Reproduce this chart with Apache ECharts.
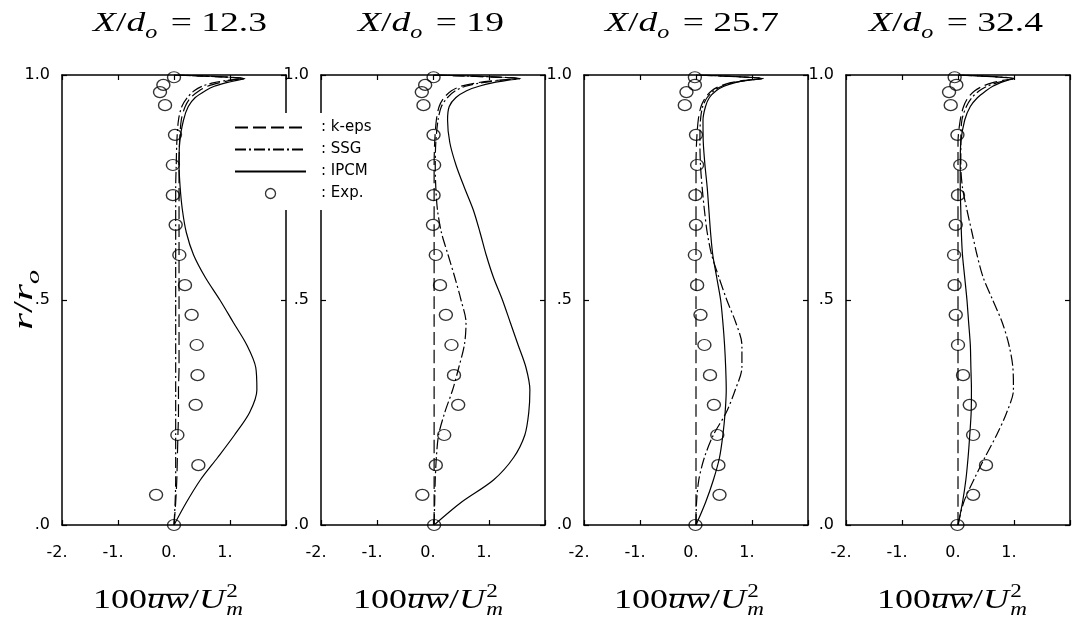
<!DOCTYPE html>
<html>
<head>
<meta charset="utf-8">
<script src="https://cdn.jsdelivr.net/npm/echarts@6/dist/echarts.min.js"></script>
<style>
  html, body { margin: 0; padding: 0; background: #fff; }
  #chart { width: 1072px; height: 622px; }
</style>
</head>
<body>
<div id="chart"></div>
<script>
// Axial stations X/d_o of the four profiles
const stations = ['12.3', '19', '25.7', '32.4'];

// Tick values and their printed labels
const xTicks = [-2, -1, 0, 1, 2];
const xTickLabels = ['-2.', '-1.', '0.', '1.', ''];
const yTicks = [0, 0.5, 1];
const yTickLabels = ['.0', '.5', '1.0'];

// Radial positions r/r_o where the model curves are sampled
const rModel = [0, 0.05, 0.1, 0.15, 0.2, 0.25, 0.3, 0.35, 0.4, 0.45, 0.5, 0.55, 0.6, 0.65,
  0.7, 0.75, 0.8, 0.85, 0.9, 0.93, 0.95, 0.965, 0.975, 0.983, 0.988, 0.992, 1.0];

// 100 uw / Um^2 predicted by each model, X/d_o = 12.3
const keps123 = [0, 0.03, 0.05, 0.06, 0.07, 0.08, 0.08, 0.09, 0.09, 0.09, 0.09, 0.09, 0.09, 0.09,
  0.09, 0.09, 0.09, 0.1, 0.13, 0.2, 0.3, 0.45, 0.6, 0.82, 1.02, 1.25, 0];
const ssg123 = [0, 0.02, 0.03, 0.03, 0.03, 0.03, 0.03, 0.03, 0.03, 0.03, 0.03, 0.03, 0.03, 0.03,
  0.03, 0.03, 0.04, 0.05, 0.08, 0.14, 0.24, 0.36, 0.5, 0.72, 0.95, 1.25, 0];
const ipcm123 = [0, 0.22, 0.47, 0.78, 1.08, 1.35, 1.48, 1.46, 1.3, 1.06, 0.82, 0.56, 0.35, 0.22,
  0.15, 0.11, 0.09, 0.1, 0.17, 0.255, 0.38, 0.56, 0.72, 0.94, 1.12, 1.27, 0];

// X/d_o = 19
const keps19 = [0.02, 0.02, 0.02, 0.02, 0.02, 0.02, 0.02, 0.02, 0.02, 0.02, 0.02, 0.02, 0.02, 0.02,
  0.02, 0.02, 0.02, 0.03, 0.06, 0.11, 0.2, 0.33, 0.5, 0.8, 1.12, 1.5, 0];
const ssg19 = [0.02, 0.03, 0.04, 0.06, 0.1, 0.21, 0.35, 0.46, 0.56, 0.59, 0.5, 0.39, 0.27, 0.15,
  0.08, 0.05, 0.04, 0.05, 0.09, 0.15, 0.26, 0.4, 0.58, 0.88, 1.2, 1.55, 0];
const ipcm19 = [0.02, 0.5, 1.08, 1.44, 1.64, 1.71, 1.73, 1.66, 1.52, 1.38, 1.24, 1.08, 0.95, 0.84,
  0.72, 0.56, 0.41, 0.3, 0.26, 0.29, 0.41, 0.6, 0.82, 1.08, 1.32, 1.57, 0];

// X/d_o = 25.7
const keps257 = [0, 0, 0, 0, 0, 0, 0, 0, 0, 0, 0, 0, 0, 0,
  0, 0, 0, 0.01, 0.04, 0.09, 0.17, 0.28, 0.42, 0.62, 0.86, 1.18, 0];
const ssg257 = [0, 0.01, 0.05, 0.15, 0.31, 0.54, 0.7, 0.82, 0.82, 0.71, 0.55, 0.41, 0.28, 0.2,
  0.15, 0.11, 0.08, 0.07, 0.08, 0.12, 0.2, 0.32, 0.46, 0.66, 0.9, 1.2, 0];
const ipcm257 = [0, 0.17, 0.31, 0.42, 0.48, 0.52, 0.54, 0.53, 0.51, 0.48, 0.44, 0.37, 0.3, 0.26,
  0.23, 0.2, 0.16, 0.13, 0.125, 0.17, 0.24, 0.36, 0.5, 0.7, 0.92, 1.2, 0];

// X/d_o = 32.4
const keps324 = [0, 0, 0, 0, 0, 0, 0, 0, 0, 0, 0, 0, 0, 0,
  0, 0, 0, 0, 0.04, 0.1, 0.18, 0.3, 0.44, 0.62, 0.8, 1.0, 0];
const ssg324 = [0, 0.1, 0.28, 0.48, 0.69, 0.87, 0.99, 0.98, 0.91, 0.79, 0.62, 0.45, 0.34, 0.25,
  0.16, 0.08, 0.05, 0.05, 0.07, 0.15, 0.25, 0.38, 0.52, 0.7, 0.85, 1.0, 0];
const ipcm324 = [0, 0.08, 0.14, 0.18, 0.21, 0.235, 0.24, 0.23, 0.22, 0.19, 0.16, 0.12, 0.08, 0.06,
  0.05, 0.04, 0.04, 0.05, 0.12, 0.22, 0.35, 0.5, 0.62, 0.76, 0.88, 1.0, 0];

// Measured points (r/r_o and 100 uw / Um^2)
const expR = [0, 0.067, 0.133, 0.2, 0.267, 0.333, 0.4, 0.467, 0.533, 0.6, 0.667, 0.733, 0.8,
  0.867, 0.933, 0.962, 0.978, 0.995];
const exp123 = [0, -0.32, 0.435, 0.06, 0.387, 0.42, 0.405, 0.315, 0.196, 0.095, 0.03, -0.02, -0.02,
  0.018, -0.16, -0.25, -0.19, 0.0];
const exp19 = [0.02, -0.19, 0.05, 0.2, 0.45, 0.375, 0.33, 0.23, 0.125, 0.05, 0.0, 0.01, 0.02,
  0.01, -0.17, -0.2, -0.14, 0.01];
const exp257 = [-0.01, 0.42, 0.4, 0.38, 0.32, 0.25, 0.15, 0.08, 0.02, -0.02, 0.0, -0.01, 0.02,
  0.0, -0.2, -0.17, -0.02, -0.02];
const exp324 = [-0.01, 0.27, 0.5, 0.27, 0.21, 0.09, 0.0, -0.04, -0.06, -0.07, -0.04, 0.0, 0.04,
  -0.01, -0.13, -0.16, -0.03, -0.06];

const panels = [
  { keps: keps123, ssg: ssg123, ipcm: ipcm123, exp: exp123 },
  { keps: keps19, ssg: ssg19, ipcm: ipcm19, exp: exp19 },
  { keps: keps257, ssg: ssg257, ipcm: ipcm257, exp: exp257 },
  { keps: keps324, ssg: ssg324, ipcm: ipcm324, exp: exp324 }
];

const models = [
  { name: 'k-eps', key: 'keps', dash: [13, 5] },
  { name: 'SSG', key: 'ssg', dash: [11, 3, 2, 3] },
  { name: 'IPCM', key: 'ipcm', dash: 'solid' }
];

// Layout
const gridLeft = [62, 321, 584, 846];
const gridTop = 75, gridW = 224, gridH = 450;
const titleCx = [180, 431, 692, 956];
const nameCx = [168, 428, 689, 952];

const sans = "'DejaVu Sans', 'Liberation Sans', sans-serif";
const serif = "'Liberation Serif', 'DejaVu Serif', serif";

// ---- small math-text typesetter built from graphic text pieces ----
const mctx = document.createElement('canvas').getContext('2d');
function fontOf(p) { return (p.italic ? 'italic ' : '') + p.size + 'px ' + serif; }
function measure(p) { mctx.font = fontOf(p); return mctx.measureText(p.text).width; }
function naturalWidth(parts) {
  let x = 0;
  parts.forEach(p => {
    if (p.stack) x += Math.max.apply(null, p.stack.map(measure));
    else x += measure(p) + (p.gap || 0);
  });
  return x;
}
function mathGroup(parts, cx, baseY, scale, rotation) {
  const kids = [];
  let x = 0;
  const put = (p, px) => kids.push({
    type: 'text', x: px, y: -(p.rise || 0) - 0.34 * p.size,
    style: {
      text: p.text, fontFamily: serif, fontSize: p.size,
      fontStyle: p.italic ? 'italic' : 'normal', fill: '#000',
      align: 'left', verticalAlign: 'middle'
    }
  });
  parts.forEach(p => {
    if (p.stack) {
      let w = 0;
      p.stack.forEach(q => { put(q, x); w = Math.max(w, measure(q)); });
      x += w;
    } else {
      const w = measure(p);
      put(p, x);
      if (p.over) {
        const yo = -0.56 * p.size;
        kids.push({ type: 'line', shape: { x1: x + 1, y1: yo, x2: x + w - 0.5, y2: yo },
          style: { stroke: '#000', lineWidth: 1.3 } });
      }
      x += w + (p.gap || 0);
    }
  });
  kids.forEach(k => {
    if (k.type === 'text') k.x -= x / 2;
    else { k.shape.x1 -= x / 2; k.shape.x2 -= x / 2; }
  });
  return { type: 'group', x: cx, y: baseY, rotation: rotation || 0, scaleX: scale, children: kids, silent: true };
}

const S = 28, s = 18;
function titleParts(st) {
  return [
    { text: 'X', italic: true, size: S },
    { text: '/', size: S },
    { text: 'd', italic: true, size: S },
    { text: 'o', italic: true, size: s, rise: -6, gap: 3 },
    { text: ' = ' + st, size: S }
  ];
}
const xNameParts = [
  { text: '100', size: S },
  { text: 'uw', italic: true, size: S, over: true },
  { text: '/', size: S },
  { text: 'U', italic: true, size: S, gap: 1 },
  { stack: [{ text: '2', size: s, rise: 12 }, { text: 'm', italic: true, size: s, rise: -6 }] }
];
const yNameParts = [
  { text: 'r', italic: true, size: S },
  { text: '/', size: S },
  { text: 'r', italic: true, size: S },
  { text: 'o', italic: true, size: s, rise: -6 }
];

const titleScale = 174 / naturalWidth(titleParts(stations[0]));
const xNameScale = 150 / naturalWidth(xNameParts);
const yNameScale = 60 / naturalWidth(yNameParts);

const graphics = [
  // blank backing behind the key, interrupting the frames it sits on
  { type: 'rect', z: 15, silent: true, shape: { x: 230, y: 113, width: 152, height: 97 },
    style: { fill: '#fff' } }
];
stations.forEach((st, i) => {
  graphics.push(mathGroup(titleParts(st), titleCx[i], 33, titleScale, 0));
  graphics.push(mathGroup(xNameParts, nameCx[i], 610, xNameScale, 0));
});
graphics.push(mathGroup(yNameParts, 34, 300, yNameScale, Math.PI / 2));

// ---- axes, grids and series ----
const lineAxis = { show: true, onZero: false, lineStyle: { color: '#000', width: 1.5 } };
const tick = { show: true, inside: true, length: 5, lineStyle: { color: '#000', width: 1.2 } };

const grid = [], xAxis = [], yAxis = [], series = [];
panels.forEach((p, i) => {
  grid.push({ left: gridLeft[i], top: gridTop, width: gridW, height: gridH,
    containLabel: false, outerBoundsMode: 'none', show: false });
  xAxis.push({
    gridIndex: i, type: 'value', position: 'bottom', min: -2, max: 2, interval: 1,
    axisLine: lineAxis, axisTick: tick, splitLine: { show: false }, z: 0,
    axisLabel: { show: true, margin: 20, color: '#000', fontFamily: sans, fontSize: 16,
      padding: [0, 10, 0, 0], formatter: v => xTickLabels[xTicks.indexOf(v)] || '' }
  });
  xAxis.push({
    gridIndex: i, type: 'value', position: 'top', min: -2, max: 2, interval: 1, z: 0,
    axisLine: lineAxis, axisTick: tick, splitLine: { show: false }, axisLabel: { show: false }
  });
  yAxis.push({
    gridIndex: i, type: 'value', position: 'left', min: 0, max: 1, interval: 0.5, z: 0,
    axisLine: lineAxis, axisTick: tick, splitLine: { show: false },
    axisLabel: { show: true, margin: 12, color: '#000', fontFamily: sans, fontSize: 16,
      formatter: v => yTickLabels[yTicks.indexOf(v)] || '' }
  });
  yAxis.push({
    gridIndex: i, type: 'value', position: 'right', min: 0, max: 1, interval: 0.5, z: 0,
    axisLine: lineAxis, axisTick: tick, splitLine: { show: false }, axisLabel: { show: false }
  });

  models.forEach(m => {
    series.push({
      type: 'line', name: m.name, xAxisIndex: 2 * i, yAxisIndex: 2 * i,
      data: rModel.map((r, j) => [p[m.key][j], r]),
      symbol: 'none', showSymbol: false, smooth: 0.3, silent: true,
      lineStyle: { color: '#000', width: 1.2, type: m.dash, join: 'round' },
      itemStyle: { color: '#000' }
    });
  });
  series.push({
    type: 'scatter', name: 'Exp.', xAxisIndex: 2 * i, yAxisIndex: 2 * i,
    data: expR.map((r, j) => [p.exp[j], r]),
    symbol: 'circle', symbolSize: [13, 11], silent: true,
    itemStyle: { color: 'rgba(0,0,0,0)', borderColor: '#000', borderWidth: 1.3 }
  });
});

const hiddenMarker = { color: 'rgba(0,0,0,0)', borderColor: 'rgba(0,0,0,0)', borderWidth: 0 };

const chart = echarts.init(document.getElementById('chart'), null, { renderer: 'canvas' });
chart.setOption({
  backgroundColor: '#fff',
  animation: false,
  grid, xAxis, yAxis, series,
  legend: {
    orient: 'vertical', left: 230, top: 115, z: 20,
    itemWidth: 71, itemHeight: 10, itemGap: 7,
    padding: [5, 10, 6, 4], backgroundColor: '#fff',
    selectedMode: false,
    data: [
      { name: 'k-eps', itemStyle: hiddenMarker },
      { name: 'SSG', itemStyle: hiddenMarker },
      { name: 'IPCM', itemStyle: hiddenMarker },
      { name: 'Exp.', icon: 'circle',
        itemStyle: { color: 'rgba(0,0,0,0)', borderColor: '#000', borderWidth: 1.3 } }
    ],
    formatter: n => ': ' + n,
    textStyle: { color: '#000', fontFamily: sans, fontSize: 15, lineHeight: 14, padding: [0, 0, 0, 10] }
  },
  graphic: graphics
});
</script>
</body>
</html>
